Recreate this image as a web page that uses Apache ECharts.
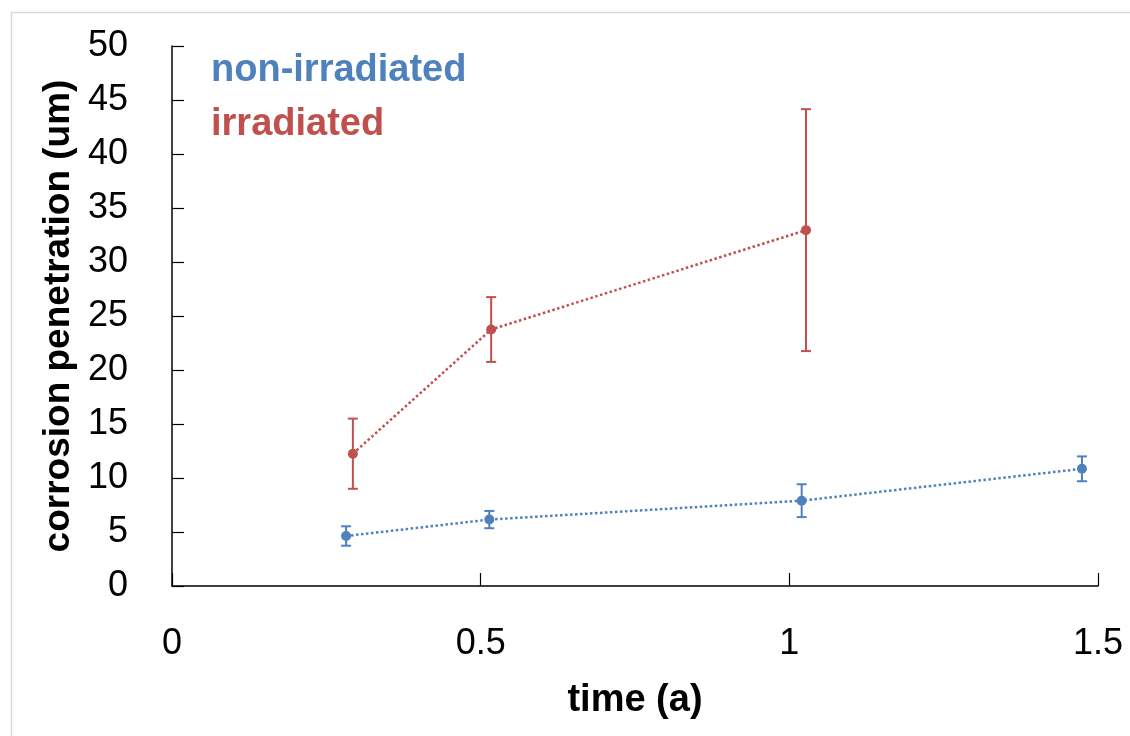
<!DOCTYPE html>
<html>
<head>
<meta charset="utf-8">
<script src="https://cdn.jsdelivr.net/npm/echarts@6/dist/echarts.min.js"></script>
<style>
html,body{margin:0;padding:0;background:#fff;}
#chart{width:1130px;height:736px;}
</style>
</head>
<body>
<div id="chart"></div>
<script>
// Data
const seriesNames = ['non-irradiated', 'irradiated'];
const nonIrrTime = [0.282, 0.514, 1.020, 1.474];
const nonIrrValue = [4.63, 6.15, 7.90, 10.85];
const nonIrrErr = [0.90, 0.80, 1.52, 1.15];
const irrTime = [0.293, 0.517, 1.027];
const irrValue = [12.25, 23.75, 32.95];
const irrErr = [3.25, 3.0, 11.2];
const yTicks = [0, 50, 5];   // min, max, interval
const xTicks = [0, 1.5, 0.5];

const colors = ['#4F81BD', '#C0504D'];
const FONT = '"Liberation Sans", Arial, sans-serif';

function pts(xs, ys) { return xs.map((x, i) => [x, ys[i]]); }
function errs(xs, ys, es) { return xs.map((x, i) => [x, ys[i] - es[i], ys[i] + es[i]]); }

function errRender(color) {
  return function (params, api) {
    const x = api.value(0);
    const lo = api.coord([x, api.value(1)]);
    const hi = api.coord([x, api.value(2)]);
    const half = 5;
    const style = { stroke: color, lineWidth: 2 };
    return {
      type: 'group',
      children: [
        { type: 'line', shape: { x1: lo[0], y1: lo[1], x2: hi[0], y2: hi[1] }, style: style },
        { type: 'line', shape: { x1: lo[0] - half, y1: lo[1], x2: lo[0] + half, y2: lo[1] }, style: style },
        { type: 'line', shape: { x1: hi[0] - half, y1: hi[1], x2: hi[0] + half, y2: hi[1] }, style: style }
      ]
    };
  };
}

const chart = echarts.init(document.getElementById('chart'), null, { renderer: 'canvas' });
chart.setOption({
  backgroundColor: '#fff',
  animation: false,
  graphic: [{
    type: 'rect', left: 9, top: 10, z: -10,
    shape: { width: 1200, height: 800 },
    style: { fill: 'none', stroke: '#d9d9d9', lineWidth: 1.5 }
  }],
  grid: { left: 172, right: 32, top: 46, bottom: 150, containLabel: false },
  legend: {
    left: 201, top: 46, orient: 'vertical', icon: 'none', itemWidth: 0, itemGap: 14,
    selectedMode: false,
    data: [
      { name: seriesNames[0], textStyle: { color: colors[0] } },
      { name: seriesNames[1], textStyle: { color: colors[1] } }
    ],
    textStyle: { fontFamily: FONT, fontWeight: 'bold', fontSize: 38, lineHeight: 40 }
  },
  xAxis: {
    type: 'value', min: xTicks[0], max: xTicks[1], interval: xTicks[2],
    name: 'time (a)', nameLocation: 'middle', nameGap: 96,
    nameTextStyle: { fontFamily: FONT, fontWeight: 'bold', fontSize: 38, color: '#000' },
    axisLine: { show: true, lineStyle: { color: '#000', width: 1.5 } },
    axisTick: { show: true, inside: true, length: 13, lineStyle: { color: '#000', width: 1.2 } },
    axisLabel: { fontFamily: FONT, fontSize: 36, color: '#000', margin: 40 },
    splitLine: { show: false }
  },
  yAxis: {
    type: 'value', min: yTicks[0], max: yTicks[1], interval: yTicks[2],
    name: 'corrosion penetration (um)', nameLocation: 'middle', nameGap: 92,
    nameTextStyle: { fontFamily: FONT, fontWeight: 'bold', fontSize: 37, color: '#000' },
    axisLine: { show: true, lineStyle: { color: '#000', width: 1.5 } },
    axisTick: { show: true, inside: true, length: 12, lineStyle: { color: '#000', width: 1.2 } },
    axisLabel: { fontFamily: FONT, fontSize: 36, color: '#000', margin: 44 },
    splitLine: { show: false }
  },
  series: [
    {
      name: seriesNames[0] + ' err', type: 'custom', renderItem: errRender(colors[0]),
      data: errs(nonIrrTime, nonIrrValue, nonIrrErr), encode: { x: 0, y: [1, 2] }, z: 1, silent: true
    },
    {
      name: seriesNames[1] + ' err', type: 'custom', renderItem: errRender(colors[1]),
      data: errs(irrTime, irrValue, irrErr), encode: { x: 0, y: [1, 2] }, z: 1, silent: true
    },
    {
      name: seriesNames[0], type: 'line', data: pts(nonIrrTime, nonIrrValue),
      color: colors[0], symbol: 'circle', symbolSize: 10, z: 3,
      lineStyle: { type: 'dotted', width: 2.5, color: colors[0] },
      itemStyle: { color: colors[0] }
    },
    {
      name: seriesNames[1], type: 'line', data: pts(irrTime, irrValue),
      color: colors[1], symbol: 'circle', symbolSize: 10, z: 3,
      lineStyle: { type: 'dotted', width: 2.5, color: colors[1] },
      itemStyle: { color: colors[1] }
    }
  ]
});
</script>
</body>
</html>
